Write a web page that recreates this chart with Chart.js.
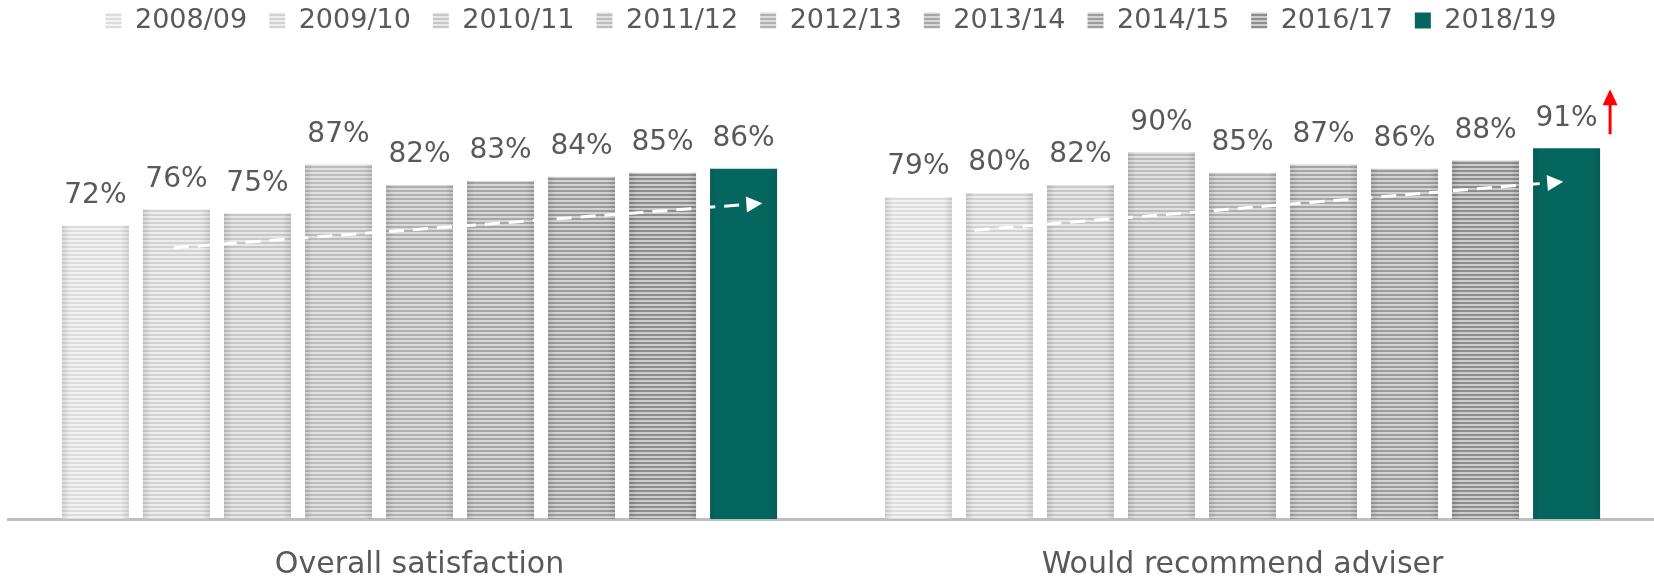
<!DOCTYPE html>
<html>
<head>
<meta charset="utf-8">
<script src="https://cdn.jsdelivr.net/npm/chart.js@4.4.0/dist/chart.umd.min.js"></script>
<style>
  html, body { margin: 0; padding: 0; background: #fff; }
</style>
</head>
<body>
<canvas id="chart" width="1654" height="580"></canvas>
<script>
// categories and survey years
const categories = ['Overall satisfaction', 'Would recommend adviser'];
const years = ['2008/09', '2009/10', '2010/11', '2011/12', '2012/13', '2013/14', '2014/15', '2016/17', '2018/19'];

// one array per year: [overall satisfaction, would recommend]
const y0809 = [72, 79];
const y0910 = [76, 80];
const y1011 = [75, 82];
const y1112 = [87, 90];
const y1213 = [82, 85];
const y1314 = [83, 87];
const y1415 = [84, 86];
const y1617 = [85, 88];
const y1819 = [86, 91];

// trend arrow start / end levels (in %), per category
const trendFrom = [66.6, 70.9];
const trendTo = [77.5, 82.8];
// significant increase in latest year, per category
const sigUp = [false, true];

const seriesValues = [y0809, y0910, y1011, y1112, y1213, y1314, y1415, y1617, y1819];

// stripe colours (light, dark) for the older years
const stripes = [
  ['#f2f2f2', '#dcdcdc'],
  ['#ededed', '#d2d2d2'],
  ['#e7e7e7', '#c7c7c7'],
  ['#e1e1e1', '#bcbcbc'],
  ['#dbdbdb', '#b0b0b0'],
  ['#d7d7d7', '#a6a6a6'],
  ['#d3d3d3', '#9c9c9c'],
  ['#cdcdcd', '#8d8d8d']
];
const teal = '#05665f';
const textColor = '#595959';
const font = '"DejaVu Sans", sans-serif';

function stripePattern(light, dark) {
  const c = document.createElement('canvas');
  c.width = 4;
  c.height = 4;
  const g = c.getContext('2d');
  g.fillStyle = light;
  g.fillRect(0, 0, 4, 2);
  g.fillStyle = dark;
  g.fillRect(0, 2, 4, 2);
  return g.createPattern(c, 'repeat');
}

const datasets = seriesValues.map((vals, i) => ({
  label: years[i],
  data: vals,
  backgroundColor: i < stripes.length ? stripePattern(stripes[i][0], stripes[i][1]) : teal,
  borderWidth: 0,
  categoryPercentage: 0.886,
  barPercentage: 0.827
}));

// labels, shading, trend arrows, significance arrow
const decorations = {
  id: 'decorations',
  afterDatasetsDraw(chart, args, opts) {
    const ctx = chart.ctx;
    const y = chart.scales.y;
    const metas = chart.data.datasets.map((d, i) => chart.getDatasetMeta(i));

    // edge shading on every bar
    metas.forEach(meta => {
      meta.data.forEach(bar => {
        const p = bar.getProps(['x', 'y', 'base', 'width'], true);
        const left = p.x - p.width / 2;
        const grad = ctx.createLinearGradient(left, 0, left + p.width, 0);
        grad.addColorStop(0, 'rgba(0,0,0,0.10)');
        grad.addColorStop(0.12, 'rgba(0,0,0,0)');
        grad.addColorStop(0.88, 'rgba(0,0,0,0)');
        grad.addColorStop(1, 'rgba(0,0,0,0.10)');
        ctx.save();
        ctx.fillStyle = grad;
        ctx.fillRect(left, p.y, p.width, p.base - p.y);
        ctx.restore();
      });
    });

    // dashed white trend arrows
    categories.forEach((c, k) => {
      const first = metas[1].data[k].getProps(['x', 'width'], true);
      const last = metas[metas.length - 1].data[k].getProps(['x', 'width'], true);
      const x0 = first.x + opts.startShift[k] * first.width;
      const x1 = last.x + opts.endShift[k] * last.width;
      const y0 = y.getPixelForValue(trendFrom[k]);
      const y1 = y.getPixelForValue(trendTo[k]);
      const ang = Math.atan2(y1 - y0, x1 - x0);
      const head = 16;
      const hx = x1 - head * Math.cos(ang);
      const hy = y1 - head * Math.sin(ang);
      ctx.save();
      ctx.strokeStyle = '#ffffff';
      ctx.lineWidth = 3;
      ctx.setLineDash([15, 9]);
      ctx.beginPath();
      ctx.moveTo(x0, y0);
      ctx.lineTo(hx - 3 * Math.cos(ang), hy - 3 * Math.sin(ang));
      ctx.stroke();
      ctx.setLineDash([]);
      ctx.fillStyle = '#ffffff';
      ctx.beginPath();
      ctx.moveTo(x1, y1);
      ctx.lineTo(hx + 8 * Math.sin(ang), hy - 8 * Math.cos(ang));
      ctx.lineTo(hx - 8 * Math.sin(ang), hy + 8 * Math.cos(ang));
      ctx.closePath();
      ctx.fill();
      ctx.restore();
    });

    // value labels above bars
    ctx.save();
    ctx.fillStyle = textColor;
    ctx.font = '28px ' + font;
    ctx.textAlign = 'center';
    ctx.textBaseline = 'middle';
    metas.forEach((meta, i) => {
      meta.data.forEach((bar, k) => {
        const p = bar.getProps(['x', 'y'], true);
        ctx.fillText(seriesValues[i][k] + '%', p.x, p.y - 30);
      });
    });
    ctx.restore();

    // red arrow for significant increase
    sigUp.forEach((up, k) => {
      if (!up) return;
      const p = metas[metas.length - 1].data[k].getProps(['x', 'y', 'width'], true);
      const ax = p.x + p.width / 2 + 10;
      const bottom = p.y - 14;
      const tip = p.y - 59;
      ctx.save();
      ctx.strokeStyle = '#ff0000';
      ctx.fillStyle = '#ff0000';
      ctx.lineWidth = 3;
      ctx.beginPath();
      ctx.moveTo(ax, bottom);
      ctx.lineTo(ax, tip + 12);
      ctx.stroke();
      ctx.beginPath();
      ctx.moveTo(ax, tip);
      ctx.lineTo(ax + 7.5, tip + 16);
      ctx.lineTo(ax - 7.5, tip + 16);
      ctx.closePath();
      ctx.fill();
      ctx.restore();
    });
  }
};

const ctx = document.getElementById('chart').getContext('2d');
const chart = new Chart(ctx, {
  type: 'bar',
  data: { labels: categories, datasets: datasets },
  options: {
    responsive: false,
    animation: false,
    devicePixelRatio: 1,
    layout: { padding: { left: 8, right: 0, top: -15, bottom: -31 } },
    scales: {
      x: {
        grid: { display: false, drawTicks: false },
        border: { display: true, color: '#bfbfbf', width: 3 },
        ticks: { color: textColor, font: { family: font, size: 30 }, padding: 28 }
      },
      y: {
        display: false,
        min: 0,
        max: 116.6
      }
    },
    plugins: {
      legend: {
        position: 'top',
        labels: {
          color: textColor,
          font: { family: font, size: 27 },
          boxWidth: 16,
          boxHeight: 16,
          padding: 22
        }
      },
      tooltip: { enabled: false },
      decorations: {
        startShift: [-0.04, -0.37],
        endShift: [0.28, -0.05]
      }
    }
  },
  plugins: [decorations]
});
</script>
</body>
</html>
